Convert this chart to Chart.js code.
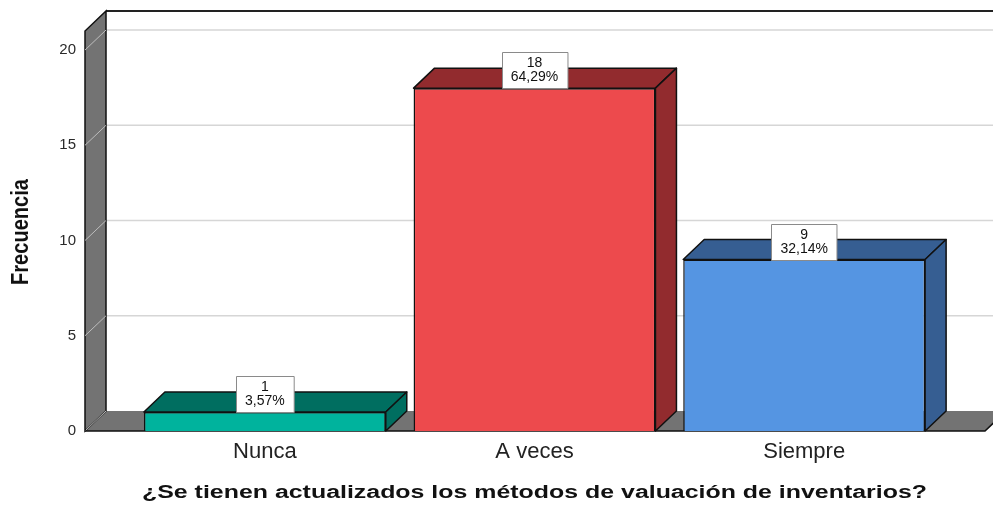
<!DOCTYPE html>
<html>
<head>
<meta charset="utf-8">
<script src="https://cdn.jsdelivr.net/npm/chart.js@4.4.1/dist/chart.umd.min.js"></script>
<style>
    html, body { margin: 0; padding: 0; background: #ffffff; }
    #wrap { width: 993px; height: 507px; }
</style>
</head>
<body>
<div id="wrap"><canvas id="barChart" width="993" height="507"></canvas></div>
<script>
// =====================
// DATA
// =====================
const categories  = ['Nunca', 'A veces', 'Siempre'];
const frequencies = [1, 18, 9];
const yTicks      = [0, 5, 10, 15, 20];
const yMax        = 21;

const xTitle = '¿Se tienen actualizados los métodos de valuación de inventarios?';
const yTitle = 'Frecuencia';

const frontColors = ['#00b39d', '#ed4a4d', '#5595e2'];
const darkColors  = ['#006e60', '#922b2e', '#365e92'];

// 3D depth of the SPSS-style box
const DX = 21;
const DY = 20;
const WALL = '#737373';

const total = frequencies.reduce((a, b) => a + b, 0);

function pctLabel(v) {
    return (v / total * 100).toFixed(2).replace('.', ',') + '%';
}

// =====================
// 3D PLUGIN
// =====================
const box3d = {
    id: 'box3d',
    beforeDatasetsDraw(chart) {
        const { ctx, chartArea: a, scales: { y } } = chart;
        const fx = a.left - 45;        // front edge of the wall
        const bx = fx + DX;            // back edge
        const floorRight = a.right + 46;
        const y0 = y.getPixelForValue(0);
        const top = a.top;

        ctx.save();

        // back wall grid lines
        ctx.strokeStyle = '#d6d6d6';
        ctx.lineWidth = 1.5;
        yTicks.forEach(v => {
            if (v === 0) return;
            const py = y.getPixelForValue(v) - DY;
            ctx.beginPath();
            ctx.moveTo(bx, py);
            ctx.lineTo(chart.width, py);
            ctx.stroke();
        });

        // back top border
        ctx.strokeStyle = '#222';
        ctx.lineWidth = 2;
        ctx.beginPath();
        ctx.moveTo(bx, top - DY);
        ctx.lineTo(chart.width, top - DY);
        ctx.stroke();

        // floor
        ctx.fillStyle = WALL;
        ctx.beginPath();
        ctx.moveTo(fx, y0);
        ctx.lineTo(floorRight, y0);
        ctx.lineTo(floorRight + DX, y0 - DY);
        ctx.lineTo(bx, y0 - DY);
        ctx.closePath();
        ctx.fill();

        // left wall
        ctx.beginPath();
        ctx.moveTo(fx, y0);
        ctx.lineTo(fx, top);
        ctx.lineTo(bx, top - DY);
        ctx.lineTo(bx, y0 - DY);
        ctx.closePath();
        ctx.fill();
        ctx.strokeStyle = '#111';
        ctx.lineWidth = 1.5;
        ctx.stroke();

        // wall grid lines
        ctx.strokeStyle = '#bdbdbd';
        ctx.lineWidth = 1;
        yTicks.forEach(v => {
            const py = y.getPixelForValue(v);
            ctx.beginPath();
            ctx.moveTo(fx, py);
            ctx.lineTo(bx, py - DY);
            ctx.stroke();
        });

        // floor front edge
        ctx.strokeStyle = '#111';
        ctx.lineWidth = 1.5;
        ctx.beginPath();
        ctx.moveTo(fx, y0);
        ctx.lineTo(floorRight, y0);
        ctx.lineTo(floorRight + DX, y0 - DY);
        ctx.stroke();

        ctx.restore();
    },
    afterDatasetsDraw(chart) {
        const { ctx } = chart;
        const meta = chart.getDatasetMeta(0);
        ctx.save();
        ctx.lineWidth = 1.5;
        ctx.strokeStyle = '#111';
        ctx.lineJoin = 'round';
        meta.data.forEach((bar, i) => {
            const { x, y, base, width } = bar.getProps(['x', 'y', 'base', 'width'], true);
            const l = x - width / 2, r = x + width / 2;
            ctx.fillStyle = darkColors[i];
            // top face
            ctx.beginPath();
            ctx.moveTo(l, y);
            ctx.lineTo(l + DX, y - DY);
            ctx.lineTo(r + DX, y - DY);
            ctx.lineTo(r, y);
            ctx.closePath();
            ctx.fill();
            ctx.stroke();
            // side face
            ctx.beginPath();
            ctx.moveTo(r, y);
            ctx.lineTo(r + DX, y - DY);
            ctx.lineTo(r + DX, base - DY);
            ctx.lineTo(r, base);
            ctx.closePath();
            ctx.fill();
            ctx.stroke();
        });

        // value boxes
        ctx.font = '14px "Liberation Sans", Arial, sans-serif';
        ctx.textAlign = 'center';
        ctx.textBaseline = 'middle';
        meta.data.forEach((bar, i) => {
            const { x, y } = bar.getProps(['x', 'y'], true);
            const l1 = String(frequencies[i]);
            const l2 = pctLabel(frequencies[i]);
            const w = Math.max(ctx.measureText(l1).width, ctx.measureText(l2).width) + 18;
            const h = 36;
            const bx = Math.round(x - w / 2) + 0.5, by = Math.round(y - h) + 0.5;
            ctx.fillStyle = '#ffffff';
            ctx.fillRect(bx, by, w, h);
            ctx.strokeStyle = '#8a8a8a';
            ctx.lineWidth = 1;
            ctx.strokeRect(bx, by, w, h);
            ctx.fillStyle = '#111';
            ctx.fillText(l1, x, by + 11);
            ctx.fillText(l2, x, by + 25);
        });
        ctx.restore();
    },
    afterDraw(chart) {
        const { ctx, chartArea: a } = chart;
        ctx.save();
        ctx.fillStyle = '#111';
        ctx.textAlign = 'center';
        ctx.textBaseline = 'middle';

        // x title, stretched to the reference width
        ctx.font = 'bold 18px "Liberation Sans", Arial, sans-serif';
        let w = ctx.measureText(xTitle).width;
        ctx.save();
        ctx.translate((a.left + a.right) / 2, 493);
        ctx.scale(785 / w, 1);
        ctx.fillText(xTitle, 0, 0);
        ctx.restore();

        // y title, condensed
        ctx.font = 'bold 23px "Liberation Sans", Arial, sans-serif';
        w = ctx.measureText(yTitle).width;
        ctx.save();
        ctx.translate(22, 232);
        ctx.rotate(-Math.PI / 2);
        ctx.scale(106 / w, 1);
        ctx.fillText(yTitle, 0, 0);
        ctx.restore();

        ctx.restore();
    }
};

// =====================
// RENDER BAR CHART
// =====================
const ctx = document.getElementById('barChart').getContext('2d');

new Chart(ctx, {
    type: 'bar',
    data: {
        labels: categories,
        datasets: [{
            data: frequencies,
            backgroundColor: frontColors,
            borderColor: '#111',
            borderWidth: 1.5,
            categoryPercentage: 1,
            barPercentage: 0.897,
        }]
    },
    options: {
        responsive: false,
        animation: false,
        layout: { padding: { top: 31, right: 54, bottom: 0, left: 0 } },
        plugins: {
            legend: { display: false },
            tooltip: { enabled: false },
        },
        scales: {
            y: {
                min: 0,
                max: yMax,
                afterBuildTicks: s => { s.ticks = yTicks.map(v => ({ value: v })); },
                afterFit: s => {
                    s.width = 130;
                    s.paddingTop = 0;
                    s.paddingBottom = 0;
                },
                ticks: {
                    padding: 54,
                    font: { family: '"Liberation Sans", Arial, sans-serif', size: 15 },
                    color: '#2a2a2a',
                },
                grid: { display: false, drawTicks: false },
                border: { display: false },
            },
            x: {
                afterFit: s => { s.height = 76; },
                ticks: {
                    padding: 8,
                    font: { family: '"Liberation Sans", Arial, sans-serif', size: 22 },
                    color: '#222',
                },
                grid: { display: false, drawTicks: false },
                border: { display: false },
            }
        }
    },
    plugins: [box3d]
});
</script>
</body>
</html>
